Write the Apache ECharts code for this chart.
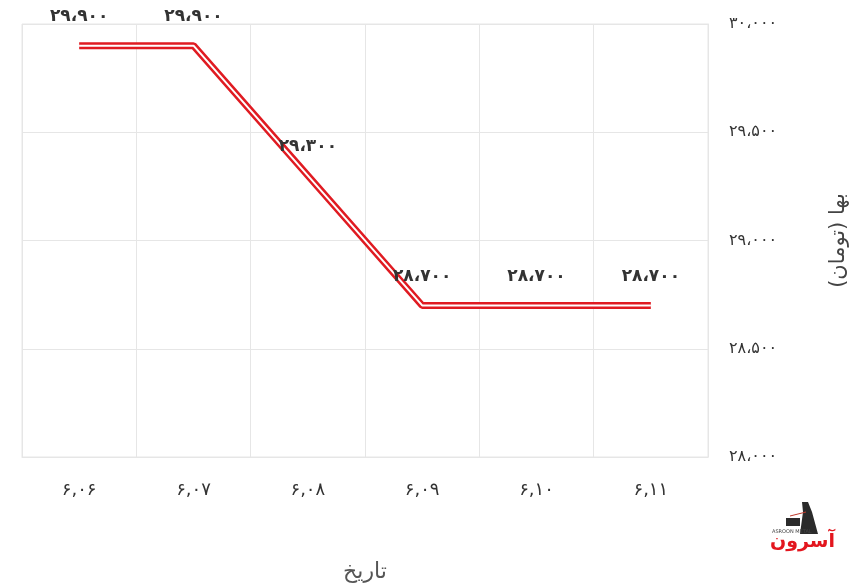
<!DOCTYPE html>
<html><head><meta charset="utf-8">
<script src="https://cdn.jsdelivr.net/npm/echarts@6/dist/echarts.min.js"></script>
<style>html,body{margin:0;padding:0;background:#fff}#c{width:860px;height:588px}</style>
</head><body><div id="c"></div>
<script>
const categories = ['۶,۰۶', '۶,۰۷', '۶,۰۸', '۶,۰۹', '۶,۱۰', '۶,۱۱'];
const prices = [29900, 29900, 29300, 28700, 28700, 28700];
const yMin = 28000, yMax = 30000, yInterval = 500;
const yName = 'بها (تومان)';
const xName = 'تاریخ';

function fa(n) {
  const s = String(n).replace(/\B(?=(\d{3})+(?!\d))/g, '،');
  return s.replace(/\d/g, d => '۰۱۲۳۴۵۶۷۸۹'[d]);
}
const FONT = 'DejaVu Sans';
const chart = echarts.init(document.getElementById('c'), null, {renderer: 'canvas'});
const gridColor = '#e6e6e6';
chart.setOption({
  backgroundColor: '#fff',
  animation: false,
  textStyle: {fontFamily: FONT},
  grid: {left: 22, right: 152, top: 24, bottom: 127, show: true, borderColor: gridColor, borderWidth: 1},
  xAxis: {
    type: 'category', data: categories, boundaryGap: true,
    name: xName, nameLocation: 'middle', nameGap: 104,
    nameTextStyle: {fontSize: 22, color: '#555', fontFamily: FONT},
    axisLine: {lineStyle: {color: gridColor}},
    axisTick: {show: false},
    axisLabel: {margin: 24, fontSize: 18, color: '#333', fontFamily: FONT},
    splitLine: {show: true, lineStyle: {color: gridColor}}
  },
  yAxis: {
    type: 'value', position: 'right', min: yMin, max: yMax, interval: yInterval,
    name: yName, nameLocation: 'middle', nameGap: 120,
    nameTextStyle: {fontSize: 21, color: '#444', fontFamily: FONT},
    axisLine: {show: true, lineStyle: {color: gridColor}},
    axisTick: {show: false},
    axisLabel: {margin: 21, fontSize: 16, color: '#333', fontFamily: FONT, formatter: v => fa(v)},
    splitLine: {show: true, lineStyle: {color: gridColor}}
  },
  series: [
    {type: 'line', data: prices, symbol: 'none', lineStyle: {color: '#e01b22', width: 7}, z: 2},
    {type: 'line', data: prices, symbol: 'circle', symbolSize: 1, showSymbol: true,
     itemStyle: {color: '#ffffff'}, lineStyle: {color: '#ffffff', width: 2}, z: 3,
     label: {show: true, position: 'top', distance: 20, fontSize: 17, fontWeight: 'bold', color: '#333', fontFamily: FONT,
             formatter: p => fa(p.value)}}
  ],
  graphic: [
    {type: 'polygon', shape: {points: [[802, 502], [808, 502], [812, 512], [818, 534], [800, 534], [803, 512]]}, style: {fill: '#2b2b2b'}},
    {type: 'line', shape: {x1: 790, y1: 516, x2: 806, y2: 512}, style: {stroke: '#c0392b', lineWidth: 1}},
    {type: 'rect', shape: {x: 786, y: 518, width: 14, height: 8}, style: {fill: '#2b2b2b'}},
    {type: 'text', left: 772, top: 529, style: {text: 'ASROON METAL', fontSize: 5, fill: '#444', fontFamily: FONT}},
    {type: 'text', left: 770, top: 533, style: {text: 'آسرون', fontSize: 19, fontWeight: 'bold', fill: '#e3161e', fontFamily: FONT}}
  ]
});
</script></body></html>
